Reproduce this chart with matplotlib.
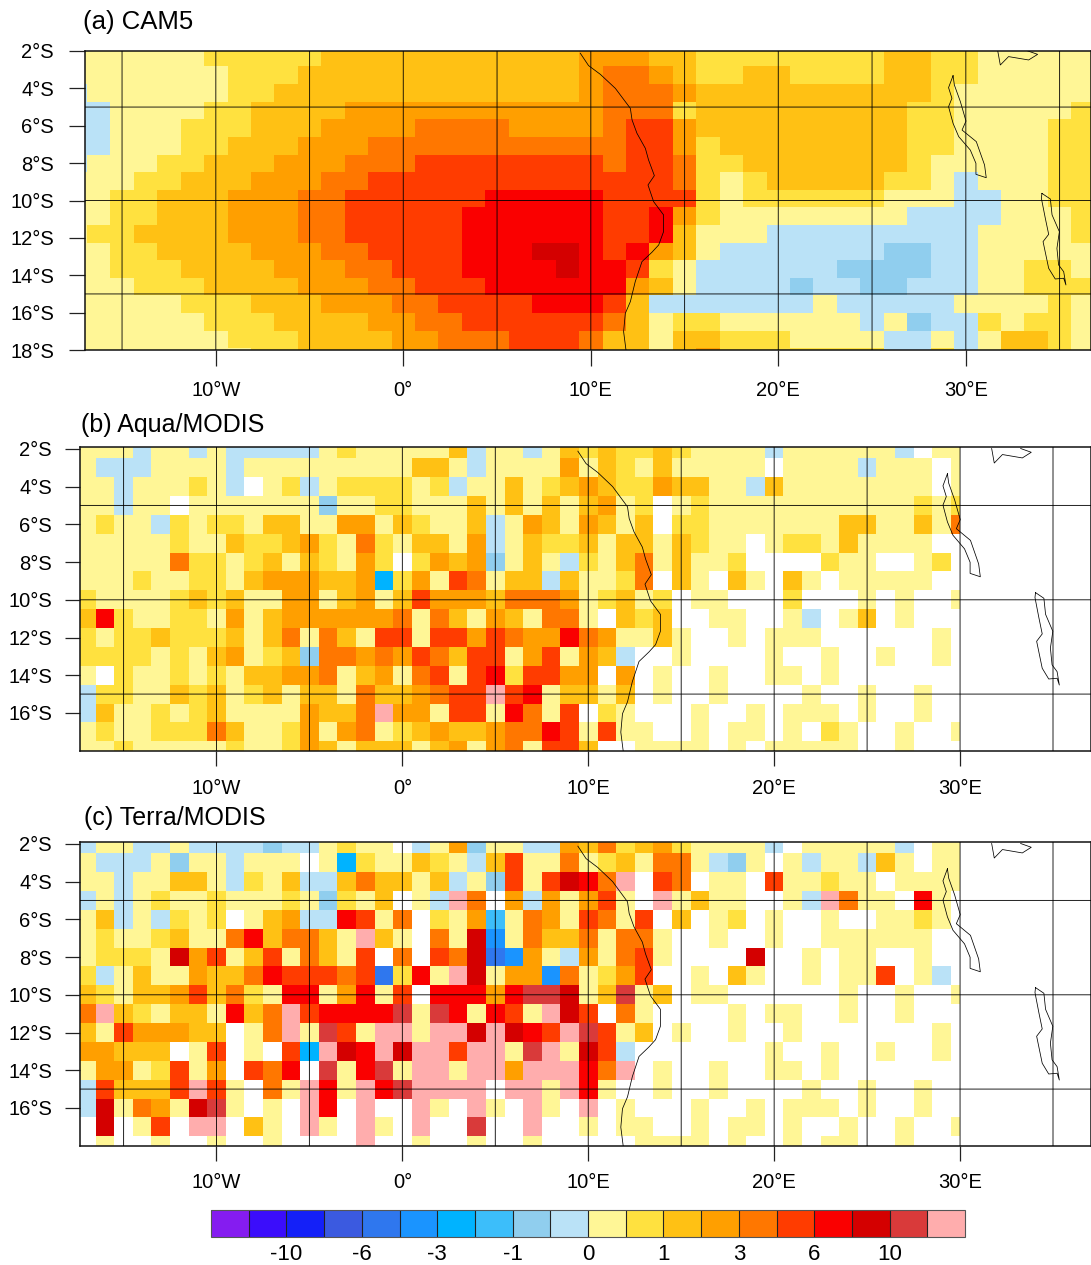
import numpy as np
import matplotlib
matplotlib.use('Agg')
import matplotlib.pyplot as plt
from matplotlib.colors import ListedColormap, BoundaryNorm

plt.rcParams['font.family'] = ['Liberation Sans', 'DejaVu Sans']

W, H = 1091, 1265

colors = ['#851CF0', '#3B0DFB', '#1420F8', '#3B5AE0', '#2F77EE', '#1A94FF', '#00B3FF',
          '#3CBEFA', '#90CEEE', '#BAE2F7', '#FFF696', '#FFE13F', '#FFC114', '#FF9F00',
          '#FF7700', '#FF3C00', '#FA0000', '#D40000', '#D93A3A', '#FFADAD']
levels = [-14, -12, -10, -8, -6, -4.5, -3, -2, -1, -0.5, 0, 0.5, 1, 2, 3, 4.5, 6, 8, 10, 12, 14]
cbar_ticks = [-10, -6, -3, -1, 0, 1, 3, 6, 10]

# class code of every cell: a-f = the blue classes, 0-9 = the warm classes, . = no data
class_code = {'a': 9, 'b': 8, 'c': 7, 'd': 6, 'e': 5, 'f': 4, '0': 10, '1': 11, '2': 12, '3': 13,
              '4': 14, '5': 15, '6': 16, '7': 17, '8': 18, '9': 19}

cam5_rows = [
    '0000001111122222222222' '3332211111111221100000',
    '0000000111222222222222' '3443211221111221100000',
    'a000000112222222222222' '3444322222222221000000',
    'aa00001122223333333333' '3444122222222211000001',
    'aa00011122233334444333' '3455322222222211000011',
    'aa00011222333444444444' '4455312222222211000011',
    'a000112223334445555555' '5455411222222210000011',
    '0001122233344555555555' '5555410122222110a00011',
    '0011222333445555556666' '6555510111111000aa0011',
    '0011222333445555566666' '65563100000000aaaa0001',
    '0112222333445555566666' '65562000aaaaaaaaa00001',
    '0011222233344555566677' '656320aaaaaaabbaa00000',
    '0011122223334455566667' '66510aaaaaabbbbaa00110',
    '0001112222333445556666' '66320aaaabaabbaaa00111',
    '0000011122233344555566' '652aaaaaaa0aaaaa000010',
    '0000001112222334455555' '5420110000 00a0baa10110'.replace(' ', ''),
    '0000000111222233444555' '4220221110000aa0a02210',
    '0000000011222233444555' '4220231111111aa1a02210',
]

aqua_rows = [
    '000a00a0aaaaa010000' '02a00a02121121' '0000a000000a.00',
    '0aaa0000a0000000002' '20a00003021020' '0000.0000a000.0',
    '00a00010a.01a011110' '1a002012321132' '200a200000000.0',
    '00a00.0000000b00110' '002020202301.0' '100000000000101',
    '0100a10110220033021' '002a03203202.1' '100000002200204',
    '0000010021123104102' '203a0211202202' '100.011020000..',
    '00000411012021031.1' '323b020a102402' '001....100..01.',
    '0001001102333223d13' '054022a20014.2' '0.20.20.00000..',
    '1000012120033023025' '3332444301201.' '00...1...0.0..0',
    '2610011030233333340' '420320440.212.' '.00..0a.02.0...',
    '1011211120240420550' '55354336430020' '..0.000......0.',
    '111101023012b443435' '4255035032a..0' '....0..0..0..0.',
    '0.10010102233402304' '505615533.3.0.' '.0..00.0.......',
    'a110021201202204223' '45595602202.0.' '.0....0..0..0..',
    'a200101200003224933' '05506405.10...' '0..0.000.0..0..',
    '0100111420013034012' '322344650500..' '0.00.0.10..0..0',
    '0010000010013202220' '230340552..000' '0.0.00000..0...',
]

terra_rows = [
    'a00aa0aaaabaa0100.a' '03b00aa3241231' '0000a.00000a.00',
    '0aaa0b00a000.0d1002' '10a25004012044' '0ab0.0a00a20.00',
    '00a00220a102aa24220' '2a0b5057649.54' '.00.500100.0000',
    'a0a0100100010b102.0' 'a94.3a30350.90' '200..0a9400.60.',
    '02a0a101.023aa6504.' '103c04305405.2' '.01.0..0..0010.',
    '010012004624420920.' '407e042240440.' '.0..0..000000..',
    '0111073502504205.4.' '547fe30a30450.' '...7..0.00..0..',
    '1a02003224655545f16' '097033e40135..' '0.20..0.005.0a.',
    '210223524106603605.' '6663688702802.' '00......0..0..0',
    '4921022062495666680' '860650975.40..' '..0.00..0..0...',
    '20533322.0490850990' '997976598502.0' '..0..0.......0.',
    '33222.05.0.5d976979' '9599089075a...' '....0..0..0..0.',
    '03301503.546.806809' '90993999649.0.' '.0..00.0.......',
    'a52225950.409609689' '999.990960..0.' '.0....0..0..0..',
    'a70430780.0.96.9..9' '0.90.90.9.0...' '0..0.000.0..0..',
    '.7.05.99.20.90.90.9' '..8..9..0.00..' '0.00.0..0..0..0',
    '.0..0..0..0....9..0' '..0..0.....000' '0.0..0.00..0...',
]

titles = ['(a) CAM5', '(b) Aqua/MODIS', '(c) Terra/MODIS']

x_ticks = [-10, 0, 10, 20, 30]
x_labels = ['10°W', '0°', '10°E', '20°E', '30°E']
y_ticks = [-2, -4, -6, -8, -10, -12, -14, -16, -18]
y_labels = ['2°S', '4°S', '6°S', '8°S', '10°S', '12°S', '14°S', '16°S', '18°S']
grid_lon = [-15, -10, -5, 0, 5, 10, 15, 20, 25, 30, 35]
grid_lat = [-5, -10, -15]

coast_lon = [9.44, 9.88, 10.51, 11.31, 12.11, 12.20, 12.46, 12.91, 13.08, 13.39, 13.05, 13.35, 13.88, 13.88,
             13.62, 13.26, 12.73, 12.37, 12.11, 11.84, 11.75, 11.88]
coast_lat = [-2.12, -2.78, -3.25, -4.0, -5.07, -5.69, -6.4, -7.21, -7.83, -8.67, -9.17, -10.06, -10.77, -11.67,
             -12.38, -12.77, -13.27, -14.34, -15.41, -16.04, -17.02, -18.03]
tanganyika_lon = [29.32, 29.08, 29.26, 29.08, 29.32, 29.62, 30.24, 30.54, 30.54, 31.09, 31.0, 30.56, 29.8, 30.01,
                  29.71, 29.39, 29.32]
tanganyika_lat = [-3.32, -3.96, -4.53, -4.98, -5.87, -6.58, -7.30, -8.01, -8.6, -8.78, -8.1, -6.85, -6.23, -5.75,
                  -4.71, -3.82, -3.32]
malawi_lon = [34.06, 34.51, 34.6, 34.99, 34.86, 34.95, 35.22, 35.34, 35.22, 34.77, 34.42, 34.12, 34.42, 34.24,
              34.03, 34.06]
malawi_lat = [-9.62, -9.92, -10.77, -11.67, -12.56, -13.45, -13.81, -14.52, -14.16, -14.2, -13.63, -12.2, -11.81,
              -10.95, -9.88, -9.62]
victoria_lon = [31.7, 31.84, 32.28, 33.35, 33.83, 33.26]
victoria_lat = [-1.98, -2.75, -2.30, -2.48, -2.18, -1.98]

cmap = ListedColormap(colors)
norm = BoundaryNorm(levels, cmap.N)
mids = [(levels[i] + levels[i + 1]) / 2 for i in range(len(colors))]


def decode(rows):
    out = []
    for row in rows:
        out.append([np.nan if ch == '.' else mids[class_code[ch]] for ch in row])
    width = max(len(r) for r in out)
    return np.array([r + [np.nan] * (width - len(r)) for r in out])


def px_axes(fig, left, right, top, bottom):
    return fig.add_axes([left / W, 1 - bottom / H, (right - left) / W, (bottom - top) / H])


fig = plt.figure(figsize=(W / 100, H / 100), dpi=100)

panels = [
    dict(box=(85, 1091, 51, 350), xlim=(-16.976, 36.677), ylim=(-18.0, -2.0), rows=cam5_rows,
         lon0=-18.125, dlon=1.25, lat0=-1.885, dlat=-0.9424, lon_end=None,
         title_x=83, title_y=22, title_size=18.5, y_min=-18, tick_len=11.5, xpad=11, ypad=10.8),
    dict(box=(80, 1091, 447, 751), xlim=(-17.343, 37.044), ylim=(-18.017, -1.9), rows=aqua_rows,
         lon0=-17.5, dlon=1.0, lat0=-1.5, dlat=-1.0, lon_end=30.0,
         title_x=81, title_y=425, title_size=18, y_min=-16, tick_len=10.8, xpad=9, ypad=9.4),
    dict(box=(80, 1091, 842, 1146), xlim=(-17.343, 37.044), ylim=(-18.017, -1.9), rows=terra_rows,
         lon0=-17.5, dlon=1.0, lat0=-1.5, dlat=-1.0, lon_end=30.0,
         title_x=84, title_y=818, title_size=18, y_min=-16, tick_len=10.8, xpad=9, ypad=9.4),
]

mesh = None
for title, p in zip(titles, panels):
    ax = px_axes(fig, *p['box'])
    z = decode(p['rows'])
    ny, nx = z.shape
    xe = p['lon0'] + p['dlon'] * np.arange(nx + 1)
    if p['lon_end'] is not None:
        xe = np.minimum(xe, p['lon_end'])
    ye = p['lat0'] + p['dlat'] * np.arange(ny + 1)
    mesh = ax.pcolormesh(xe, ye, z, cmap=cmap, norm=norm, shading='flat', linewidth=0, rasterized=True)
    ax.set_xlim(*p['xlim'])
    ax.set_ylim(*p['ylim'])
    for g in grid_lon:
        ax.axvline(g, color='#000000', lw=0.72, alpha=0.85, zorder=3, snap=False)
    for g in grid_lat:
        ax.axhline(g, color='#000000', lw=0.72, alpha=0.85, zorder=3, snap=False)
    for lon, lat in [(coast_lon, coast_lat), (tanganyika_lon, tanganyika_lat),
                     (malawi_lon, malawi_lat), (victoria_lon, victoria_lat)]:
        ax.plot(lon, lat, color='black', lw=0.55, zorder=4)
    ax.set_xticks(x_ticks)
    ax.set_xticklabels(x_labels)
    idx = [i for i, t in enumerate(y_ticks) if t >= p['y_min']]
    ax.set_yticks([y_ticks[i] for i in idx])
    ax.set_yticklabels([y_labels[i] for i in idx])
    ax.tick_params(axis='both', direction='out', length=p['tick_len'], width=0.9, labelsize=14.5, color='#222222')
    ax.tick_params(axis='x', pad=p['xpad'])
    ax.tick_params(axis='y', pad=p['ypad'])
    for s in ax.spines.values():
        s.set_linewidth(1.1)
        s.set_color('#111111')
    fig.text(p['title_x'] / W, 1 - p['title_y'] / H, title, fontsize=p['title_size'], ha='left', va='center')

cax = px_axes(fig, 211, 965, 1210, 1237)
cb = fig.colorbar(mesh, cax=cax, orientation='horizontal', spacing='uniform', ticks=cbar_ticks, drawedges=True)
cb.ax.set_xticklabels([str(t) for t in cbar_ticks])
cb.ax.tick_params(axis='x', length=0, labelsize=16, pad=5)
cb.ax.minorticks_off()
cb.dividers.set_color('#222222')
cb.dividers.set_linewidth(0.8)
cb.outline.set_edgecolor('#555555')
cb.outline.set_linewidth(0.8)

fig.savefig('out.png', dpi=100)
